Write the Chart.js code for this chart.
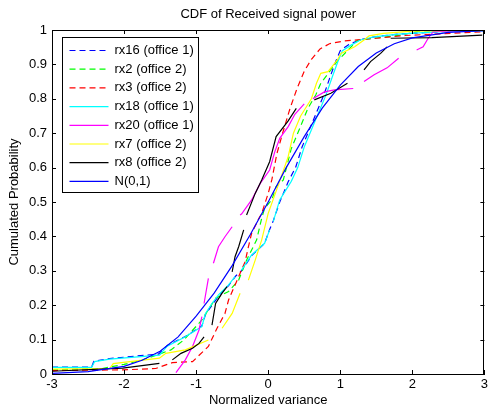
<!DOCTYPE html>
<html>
<head>
<meta charset="utf-8">
<script src="https://cdn.jsdelivr.net/npm/chart.js@4/dist/chart.umd.min.js"></script>
<style>
  body { margin: 0; background: #fff; }
  canvas { display: block; }
</style>
</head>
<body>
<canvas id="graph" width="491" height="410"></canvas>
<script>
// values, [x, y] pairs, null = break in the line
const xTicks = [-3, -2, -1, 0, 1, 2, 3];
const yTicks = [0, 0.1, 0.2, 0.3, 0.4, 0.5, 0.6, 0.7, 0.8, 0.9, 1];

const rx16 = [[-3,0.02],[-2.45,0.02],[-2.42,0.037],[-2.2,0.045],[-1.52,0.058],[-1.4,0.083],[-1.15,0.109],
  [-0.92,0.14],[-0.87,0.173],[-0.78,0.2],[-0.69,0.226],[-0.55,0.257],[-0.45,0.285],[-0.37,0.3],[-0.23,0.344],
  [-0.05,0.38],[0.02,0.42],[0.07,0.445],[0.16,0.5],[0.28,0.56],[0.38,0.6],[0.47,0.66],[0.57,0.71],[0.67,0.76],
  [0.77,0.81],[0.87,0.87],[0.94,0.91],[1.0,0.94],[1.12,0.958],[1.28,0.972],[1.5,0.981],[1.8,0.988],[2.4,0.995],[3,0.998]];

const rx2 = [[-3,0.012],[-2.3,0.016],[-2.0,0.028],[-1.76,0.04],[-1.55,0.055],[-1.35,0.07],[-1.17,0.099],[-0.92,0.157],
  [-0.73,0.22],[-0.55,0.24],[-0.41,0.273],[-0.3,0.331],[-0.16,0.39],[-0.09,0.453],[-0.05,0.482],[0.05,0.506],
  [0.11,0.545],[0.21,0.564],[0.32,0.655],[0.45,0.72],[0.55,0.772],[0.66,0.811],[0.73,0.845],[0.96,0.91],
  [1.24,0.97],[1.83,0.985],[2.1,0.997],[3,1]];

const rx3 = [[-3,0.01],[-2.02,0.012],[-1.56,0.016],[-1.33,0.033],[-1.05,0.036],[-0.83,0.08],[-0.71,0.133],[-0.6,0.176],
  [-0.55,0.215],[-0.48,0.249],[-0.39,0.293],[-0.32,0.326],[-0.28,0.365],[-0.23,0.409],[-0.14,0.448],[-0.09,0.467],
  [0,0.525],[0.05,0.564],[0.12,0.64],[0.2,0.7],[0.3,0.77],[0.4,0.83],[0.5,0.88],[0.6,0.915],[0.72,0.945],
  [0.85,0.96],[1.05,0.968],[1.5,0.976],[1.9,0.984],[2.3,0.988],[3,0.995]];

const rx18 = [[-3,0.019],[-2.45,0.019],[-2.41,0.036],[-2.2,0.043],[-1.51,0.055],[-1.4,0.081],[-1.15,0.108],
  [-0.92,0.138],[-0.87,0.176],[-0.78,0.205],[-0.69,0.23],[-0.55,0.259],[-0.46,0.283],null,[-0.37,0.302],
  [-0.23,0.346],[-0.05,0.38],[0.02,0.419],null,[0.07,0.443],[0.16,0.506],[0.32,0.56],[0.41,0.6],[0.5,0.66],
  [0.6,0.71],[0.7,0.76],[0.8,0.81],[0.9,0.87],[0.97,0.91],[1.03,0.94],[1.15,0.956],[1.28,0.971],[1.47,0.98],
  [1.8,0.988],[2.4,0.995],[3,0.998]];

const rx20 = [[-1.28,0.004],[-1.15,0.041],[-1.05,0.08],[-0.96,0.128],[-0.92,0.167],null,[-0.89,0.205],[-0.83,0.278],null,
  [-0.76,0.322],[-0.69,0.37],[-0.6,0.399],[-0.5,0.428],null,[-0.39,0.462],[-0.37,0.465],[-0.23,0.506],[-0.11,0.554],
  [0.02,0.593],[0.09,0.645],[0.16,0.685],[0.28,0.72],[0.37,0.755],[0.5,0.785],null,[0.62,0.8],[0.78,0.82],
  [0.92,0.826],[1.18,0.83],null,[1.33,0.85],[1.47,0.87],[1.65,0.89],[1.81,0.918],null,[2.06,0.942],[2.15,0.951],
  [2.22,0.976],[2.29,0.995],[3,1]];

const rx7 = [[-3,0.014],[-2.2,0.016],[-2.15,0.03],[-1.51,0.046],[-1.42,0.06],[-1.15,0.07],[-0.83,0.099],null,
  [-0.64,0.133],[-0.5,0.176],[-0.39,0.235],null,[-0.275,0.273],[-0.18,0.331],[-0.09,0.39],[0,0.467],[0.14,0.549],
  [0.275,0.63],[0.35,0.7],[0.45,0.75],[0.6,0.8],[0.67,0.845],[0.73,0.874],[0.83,0.879],[0.96,0.913],[1.01,0.932],
  [1.2,0.951],[1.33,0.971],[1.4,0.983],[1.6,0.99],[2,0.997],[3,1]];

const rx8 = [[-3,0.008],[-2.02,0.017],[-1.51,0.031],null,[-1.33,0.041],[-1.21,0.06],[-1.05,0.075],[-0.96,0.089],
  [-0.89,0.108],null,[-0.78,0.142],[-0.73,0.205],[-0.64,0.235],[-0.57,0.254],null,[-0.5,0.297],[-0.46,0.341],
  [-0.41,0.37],[-0.34,0.419],null,[-0.3,0.462],[-0.18,0.525],[-0.09,0.564],[0.02,0.617],[0.11,0.69],[0.275,0.735],
  [0.39,0.772],null,[0.64,0.797],[0.87,0.816],[1.1,0.845],null,[1.33,0.884],[1.42,0.908],[1.56,0.932],[1.65,0.951],
  null,[1.7,0.976],[2.27,0.978],[2.97,0.985]];

const normal = [[-3,0.002],[-2.5,0.007],[-2,0.022],[-1.75,0.04],[-1.5,0.066],[-1.25,0.108],[-1,0.168],[-0.75,0.235],
  [-0.5,0.315],[-0.25,0.405],[0,0.5],[0.25,0.6],[0.5,0.69],[0.75,0.773],[1,0.84],[1.25,0.894],[1.5,0.933],
  [1.75,0.96],[2,0.977],[2.5,0.993],[3,0.998]];

const labels = ['rx16 (office 1)', 'rx2 (office 2)', 'rx3 (office 2)', 'rx18 (office 1)',
  'rx20 (office 1)', 'rx7 (office 2)', 'rx8 (office 2)', 'N(0,1)'];
const series = [rx16, rx2, rx3, rx18, rx20, rx7, rx8, normal];
const colors = ['#0000ff', '#00ff00', '#ff0000', '#00ffff', '#ff00ff', '#ffff00', '#000000', '#0000ff'];
const dashed = [true, true, true, false, false, false, false, false];

const FONT = 'Liberation Sans, Arial, sans-serif';
const FS = 13;

function toPoints(arr) {
  let lastX = 0;
  return arr.map(p => {
    if (p === null) return {x: lastX, y: null};
    lastX = p[0];
    return {x: p[0], y: p[1]};
  });
}

const datasets = series.map((s, i) => ({
  label: labels[i],
  data: toPoints(s),
  borderColor: colors[i],
  borderWidth: 1.2,
  borderDash: dashed[i] ? [6, 4] : [],
  pointRadius: 0,
  tension: 0,
  spanGaps: false,
  order: series.length - i // later series drawn on top, like matlab
}));

// matlab look: box, inward ticks, title, legend
const matlabFrame = {
  id: 'matlabFrame',
  afterDraw(chart) {
    const ctx = chart.ctx;
    const a = chart.chartArea;
    const xs = chart.scales.x, ys = chart.scales.y;
    ctx.save();
    ctx.strokeStyle = '#000';
    ctx.lineWidth = 1;
    ctx.beginPath();
    ctx.rect(Math.round(a.left) + 0.5, Math.round(a.top) + 0.5,
      Math.round(a.right - a.left) - 1, Math.round(a.bottom - a.top));
    const tl = 4;
    xTicks.forEach(v => {
      const px = Math.round(xs.getPixelForValue(v)) + 0.5;
      ctx.moveTo(px, a.bottom); ctx.lineTo(px, a.bottom - tl);
      ctx.moveTo(px, a.top); ctx.lineTo(px, a.top + tl);
    });
    yTicks.forEach(v => {
      const py = Math.round(ys.getPixelForValue(v)) + 0.5;
      ctx.moveTo(a.left, py); ctx.lineTo(a.left + tl, py);
      ctx.moveTo(a.right, py); ctx.lineTo(a.right - tl, py);
    });
    ctx.stroke();

    // title
    ctx.fillStyle = '#000';
    ctx.font = FS + 'px ' + FONT;
    ctx.textAlign = 'center';
    ctx.textBaseline = 'middle';
    ctx.fillText('CDF of Received signal power', (a.left + a.right) / 2, 14);

    // legend box
    const lx = Math.round(a.left) + 10.5, ly = Math.round(a.top) + 7.5;
    ctx.fillStyle = '#fff';
    ctx.fillRect(lx, ly, 136, 155);
    ctx.strokeRect(lx, ly, 136, 155);
    ctx.textAlign = 'left';
    labels.forEach((lab, i) => {
      const y = ly + 13 + i * 18.7;
      ctx.strokeStyle = colors[i];
      ctx.lineWidth = 1.2;
      ctx.setLineDash(dashed[i] ? [6, 4] : []);
      ctx.beginPath();
      ctx.moveTo(lx + 7, y); ctx.lineTo(lx + 46, y);
      ctx.stroke();
      ctx.setLineDash([]);
      ctx.fillStyle = '#000';
      ctx.fillText(lab, lx + 52, y);
    });
    ctx.restore();
  }
};

new Chart(document.getElementById('graph'), {
  type: 'line',
  data: { datasets: datasets },
  options: {
    responsive: false,
    animation: false,
    events: [],
    layout: { padding: { top: 30, right: 3, left: 0, bottom: 0 } },
    plugins: { legend: { display: false }, title: { display: false }, tooltip: { enabled: false } },
    scales: {
      x: {
        type: 'linear', min: -3, max: 3,
        afterBuildTicks: s => { s.ticks = xTicks.map(v => ({value: v})); },
        afterFit: s => { s.height = 36; },
        grid: { display: false, drawTicks: false },
        border: { display: true, color: '#000' },
        ticks: { color: '#000', padding: 3, font: { family: FONT, size: FS } },
        title: { display: true, text: 'Normalized variance', color: '#000',
                 font: { family: FONT, size: FS }, padding: { top: 0, bottom: 2 } }
      },
      y: {
        type: 'linear', min: 0, max: 1,
        afterBuildTicks: s => { s.ticks = yTicks.map(v => ({value: v})); },
        afterFit: s => { s.width = 52; },
        grid: { display: false, drawTicks: false },
        border: { display: true, color: '#000' },
        ticks: { color: '#000', padding: 5, font: { family: FONT, size: FS },
                 callback: v => String(Math.round(v * 10) / 10) },
        title: { display: true, text: 'Cumulated Probability', color: '#000',
                 font: { family: FONT, size: FS }, padding: { top: 7, bottom: 0 } }
      }
    }
  },
  plugins: [matlabFrame]
});
</script>
</body>
</html>
